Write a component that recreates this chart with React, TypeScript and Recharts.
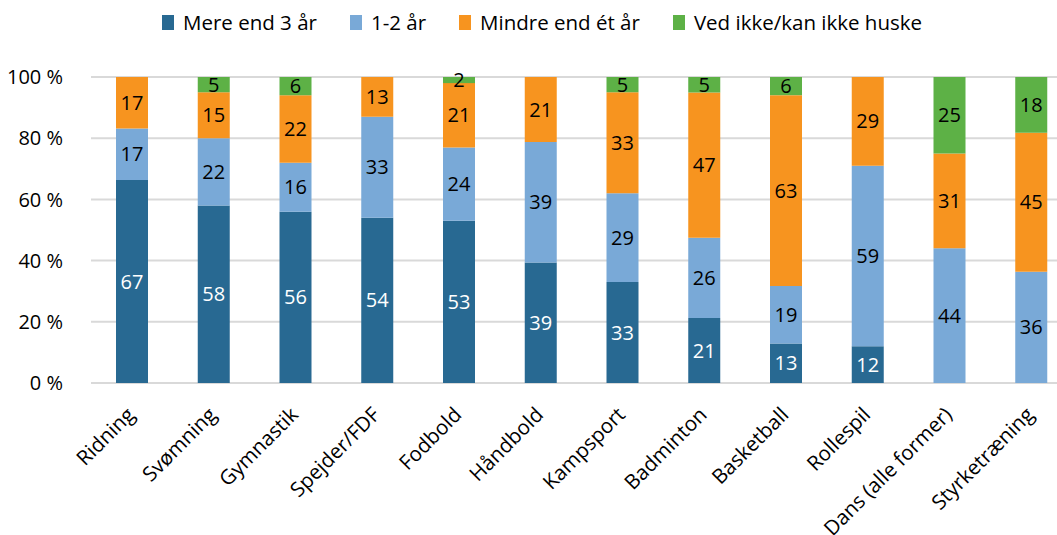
import { Bar, BarChart, CartesianGrid, LabelList, XAxis, YAxis } from "recharts";

const categories = [
  "Ridning",
  "Svømning",
  "Gymnastik",
  "Spejder/FDF",
  "Fodbold",
  "Håndbold",
  "Kampsport",
  "Badminton",
  "Basketball",
  "Rollespil",
  "Dans (alle former)",
  "Styrketræning",
];

const mereEnd3 = [67, 58, 56, 54, 53, 39, 33, 21, 13, 12, 0, 0];
const etTilTo = [17, 22, 16, 33, 24, 39, 29, 26, 19, 59, 44, 36];
const mindreEndEt = [17, 15, 22, 13, 21, 21, 33, 47, 63, 29, 31, 45];
const vedIkke = [0, 5, 6, 0, 2, 0, 5, 5, 6, 0, 25, 18];

const yTicks = [0, 0.2, 0.4, 0.6, 0.8, 1];

const series = [
  { key: "a", name: "Mere end 3 år", color: "#286992", values: mereEnd3, text: "#ffffff" },
  { key: "b", name: "1-2 år", color: "#79a9d7", values: etTilTo, text: "#000000" },
  { key: "c", name: "Mindre end ét år", color: "#f7941f", values: mindreEndEt, text: "#000000" },
  { key: "d", name: "Ved ikke/kan ikke huske", color: "#5db146", values: vedIkke, text: "#000000" },
];

const data = categories.map((name, i) => {
  const row: Record<string, string | number> = { name };
  series.forEach((s) => (row[s.key] = s.values[i]));
  return row;
});

const font = "'Open Sans', sans-serif";

function AngledTick({ x, y, payload }: { x: number; y: number; payload: { value: string } }) {
  return (
    <g transform={`translate(${x + 4},${y + 25})`}>
      <text
        x={0}
        y={0}
        textAnchor="end"
        transform="rotate(-45)"
        fontSize={20.5}
        fontFamily={font}
        fill="#000"
      >
        {payload.value}
      </text>
    </g>
  );
}

export default function App() {
  return (
    <div
      style={{
        position: "absolute",
        left: 0,
        top: 0,
        width: 1057,
        height: 535,
        overflow: "hidden",
        background: "#fff",
      }}
    >
      <div
        style={{
          position: "absolute",
          top: 8,
          left: 162,
          display: "flex",
          fontFamily: font,
          fontSize: 20.5,
          gap: 33,
          whiteSpace: "nowrap",
        }}
      >
        {series.map((s) => (
          <div key={s.key} style={{ display: "flex", alignItems: "center", gap: 9 }}>
            <span style={{ width: 12, height: 15, background: s.color, display: "inline-block" }} />
            <span>{s.name}</span>
          </div>
        ))}
      </div>
      <BarChart
        width={1072}
        height={535}
        data={data}
        stackOffset="expand"
        margin={{ top: 77, right: 0, left: 0, bottom: 0 }}
      >
        <CartesianGrid vertical={false} stroke="#d9d9d9" strokeWidth={2} />
        <XAxis
          dataKey="name"
          axisLine={false}
          tickLine={false}
          interval={0}
          height={152}
          tick={(p: any) => <AngledTick {...p} />}
        />
        <YAxis
          width={91}
          ticks={yTicks}
          domain={[0, 1]}
          axisLine={false}
          tickLine={false}
          tickFormatter={(v: number) => `${Math.round(v * 100)} %`}
          tick={{ fontSize: 20, fontFamily: font, fill: "#000" }}
          tickMargin={22}
        />
        {series.map((s) => (
          <Bar
            key={s.key}
            dataKey={s.key}
            name={s.name}
            stackId="x"
            fill={s.color}
            barSize={32}
            isAnimationActive={false}
          >
            <LabelList
              dataKey={s.key}
              position="center"
              fill={s.text}
              fontSize={20}
              fontFamily={font}
              formatter={(v: any) => (v ? v : "")}
            />
          </Bar>
        ))}
      </BarChart>
    </div>
  );
}
